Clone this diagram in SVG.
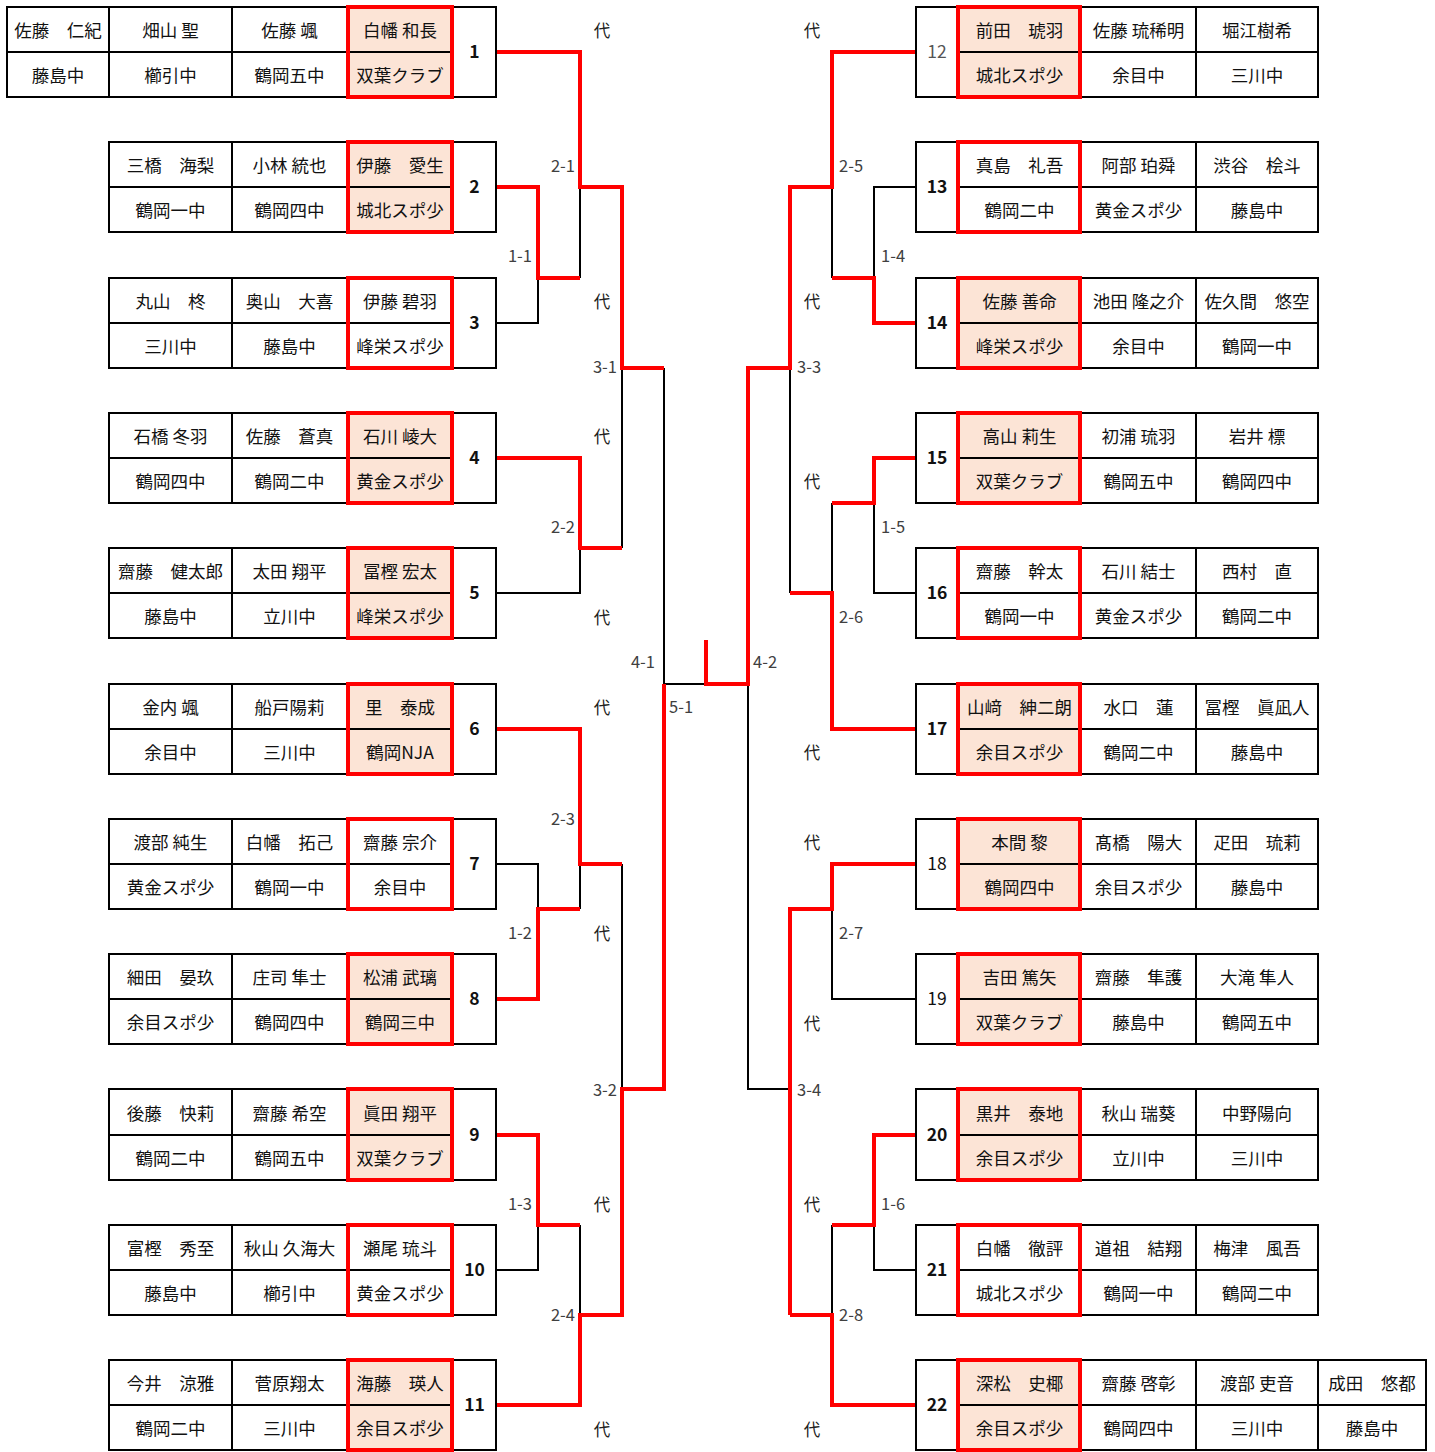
<svg xmlns="http://www.w3.org/2000/svg" width="1435" height="1452" viewBox="0 0 1435 1452">
<style>
.bg{fill:#fff}
.pk{fill:#fce4d6}
.tb{fill:none;stroke:#000;stroke-width:2}
.rb{fill:none;stroke:#f00;stroke-width:4}
.ln{fill:none;stroke:#000;stroke-width:2}
.rl{fill:none;stroke:#f00;stroke-width:4;stroke-linejoin:miter}
text{font-family:"Noto Sans CJK JP","Noto Sans",sans-serif;dominant-baseline:central}
.t{font-size:17.5px;text-anchor:middle;fill:#111}
.n{font-size:17.5px;text-anchor:middle;fill:#111;font-weight:bold}
.nl{font-size:17.5px;text-anchor:middle;fill:#111}
.ng{font-size:17.5px;text-anchor:middle;fill:#555}
.le{font-size:16.5px;text-anchor:end;fill:#404040}
.ls{font-size:16.5px;text-anchor:start;fill:#404040}
.d{font-size:16.5px;text-anchor:middle;fill:#222}
</style>
<rect class="bg" x="0" y="0" width="1435" height="1452"/>

<g id="connectors">
<path class="ln" d="M496 323H538V278M580 187V278M496 593H580V548M622 368V548M496 864H538V909M580 864V909M496 1270H538V1225M580 1225V1315M622 864V1089M664 368V684H706"/>
<path class="ln" d="M916 187H874V278M832 187V278M916 593H874V503M832 503V593M790 368V593M916 999H832V909M916 1270H874V1225M832 1225V1315M790 1089H748V684"/>
<path class="rl" d="M496 52H580V187H622V368H664"/>
<path class="rl" d="M496 187H538V278H580"/>
<path class="rl" d="M496 458H580V548H622"/>
<path class="rl" d="M496 729H580V864H622"/>
<path class="rl" d="M496 999H538V909H580"/>
<path class="rl" d="M496 1135H538V1225H580"/>
<path class="rl" d="M496 1405H580V1315H622V1089H664V684"/>
<path class="rl" d="M706 640V684H748V368H790V187H832V52H916"/>
<path class="rl" d="M916 323H874V278H832"/>
<path class="rl" d="M916 458H874V503H832"/>
<path class="rl" d="M916 729H832V593H790"/>
<path class="rl" d="M916 864H832V909H790V1315"/>
<path class="rl" d="M916 1135H874V1225H832"/>
<path class="rl" d="M916 1405H832V1315H790"/>
</g>

<g id="labels">
<text class="le" x="575" y="165">2-1</text>
<text class="le" x="532" y="255">1-1</text>
<text class="le" x="617" y="366">3-1</text>
<text class="le" x="575" y="526">2-2</text>
<text class="le" x="655" y="661">4-1</text>
<text class="ls" x="669" y="706">5-1</text>
<text class="le" x="575" y="818">2-3</text>
<text class="le" x="532" y="932">1-2</text>
<text class="le" x="617" y="1089">3-2</text>
<text class="le" x="532" y="1203">1-3</text>
<text class="le" x="575" y="1314">2-4</text>
<text class="ls" x="839" y="165">2-5</text>
<text class="ls" x="881" y="255">1-4</text>
<text class="ls" x="797" y="366">3-3</text>
<text class="ls" x="881" y="526">1-5</text>
<text class="ls" x="839" y="616">2-6</text>
<text class="ls" x="753" y="661">4-2</text>
<text class="ls" x="839" y="932">2-7</text>
<text class="ls" x="797" y="1089">3-4</text>
<text class="ls" x="881" y="1203">1-6</text>
<text class="ls" x="839" y="1314">2-8</text>
<text class="d" x="602" y="30">代</text>
<text class="d" x="602" y="301">代</text>
<text class="d" x="602" y="436">代</text>
<text class="d" x="602" y="617">代</text>
<text class="d" x="602" y="707">代</text>
<text class="d" x="602" y="933">代</text>
<text class="d" x="602" y="1204">代</text>
<text class="d" x="602" y="1429">代</text>
<text class="d" x="812" y="30">代</text>
<text class="d" x="812" y="301">代</text>
<text class="d" x="812" y="481">代</text>
<text class="d" x="812" y="752">代</text>
<text class="d" x="812" y="842">代</text>
<text class="d" x="812" y="1023">代</text>
<text class="d" x="812" y="1204">代</text>
<text class="d" x="812" y="1429">代</text>
</g>

<g id="m1">
<rect class="pk" x="348" y="7" width="104" height="90"/>
<rect class="tb" x="7" y="7" width="489" height="90"/>
<path class="ln" d="M109 7V97M232 7V97M347 7V97M453 7V97M7 52H453"/>
<rect class="rb" x="348" y="7" width="104" height="90"/>
<text class="t" x="58" y="29.5">佐藤　仁紀</text><text class="t" x="58" y="74.5">藤島中</text>
<text class="t" x="170.5" y="29.5">畑山 聖</text><text class="t" x="170.5" y="74.5">櫛引中</text>
<text class="t" x="289.5" y="29.5">佐藤 颯</text><text class="t" x="289.5" y="74.5">鶴岡五中</text>
<text class="t" x="400" y="29.5">白幡 和長</text><text class="t" x="400" y="74.5">双葉クラブ</text>
<text class="n" x="474.5" y="50">1</text>
</g>

<g id="m2">
<rect class="pk" x="348" y="142" width="104" height="90"/>
<rect class="tb" x="109" y="142" width="387" height="90"/>
<path class="ln" d="M232 142V232M347 142V232M453 142V232M109 187H453"/>
<rect class="rb" x="348" y="142" width="104" height="90"/>
<text class="t" x="170.5" y="164.5">三橋　海梨</text><text class="t" x="170.5" y="209.5">鶴岡一中</text>
<text class="t" x="289.5" y="164.5">小林 統也</text><text class="t" x="289.5" y="209.5">鶴岡四中</text>
<text class="t" x="400" y="164.5">伊藤　愛生</text><text class="t" x="400" y="209.5">城北スポ少</text>
<text class="n" x="474.5" y="185">2</text>
</g>

<g id="m3">
<rect class="tb" x="109" y="278" width="387" height="90"/>
<path class="ln" d="M232 278V368M347 278V368M453 278V368M109 323H453"/>
<rect class="rb" x="348" y="278" width="104" height="90"/>
<text class="t" x="170.5" y="300.5">丸山　柊</text><text class="t" x="170.5" y="345.5">三川中</text>
<text class="t" x="289.5" y="300.5">奥山　大喜</text><text class="t" x="289.5" y="345.5">藤島中</text>
<text class="t" x="400" y="300.5">伊藤 碧羽</text><text class="t" x="400" y="345.5">峰栄スポ少</text>
<text class="n" x="474.5" y="321">3</text>
</g>

<g id="m4">
<rect class="pk" x="348" y="413" width="104" height="90"/>
<rect class="tb" x="109" y="413" width="387" height="90"/>
<path class="ln" d="M232 413V503M347 413V503M453 413V503M109 458H453"/>
<rect class="rb" x="348" y="413" width="104" height="90"/>
<text class="t" x="170.5" y="435.5">石橋 冬羽</text><text class="t" x="170.5" y="480.5">鶴岡四中</text>
<text class="t" x="289.5" y="435.5">佐藤　蒼真</text><text class="t" x="289.5" y="480.5">鶴岡二中</text>
<text class="t" x="400" y="435.5">石川 崚大</text><text class="t" x="400" y="480.5">黄金スポ少</text>
<text class="n" x="474.5" y="456">4</text>
</g>

<g id="m5">
<rect class="pk" x="348" y="548" width="104" height="90"/>
<rect class="tb" x="109" y="548" width="387" height="90"/>
<path class="ln" d="M232 548V638M347 548V638M453 548V638M109 593H453"/>
<rect class="rb" x="348" y="548" width="104" height="90"/>
<text class="t" x="170.5" y="570.5">齋藤　健太郎</text><text class="t" x="170.5" y="615.5">藤島中</text>
<text class="t" x="289.5" y="570.5">太田 翔平</text><text class="t" x="289.5" y="615.5">立川中</text>
<text class="t" x="400" y="570.5">冨樫 宏太</text><text class="t" x="400" y="615.5">峰栄スポ少</text>
<text class="n" x="474.5" y="591">5</text>
</g>

<g id="m6">
<rect class="pk" x="348" y="684" width="104" height="90"/>
<rect class="tb" x="109" y="684" width="387" height="90"/>
<path class="ln" d="M232 684V774M347 684V774M453 684V774M109 729H453"/>
<rect class="rb" x="348" y="684" width="104" height="90"/>
<text class="t" x="170.5" y="706.5">金内 颯</text><text class="t" x="170.5" y="751.5">余目中</text>
<text class="t" x="289.5" y="706.5">船戸陽莉</text><text class="t" x="289.5" y="751.5">三川中</text>
<text class="t" x="400" y="706.5">里　泰成</text><text class="t" x="400" y="751.5">鶴岡NJA</text>
<text class="n" x="474.5" y="727">6</text>
</g>

<g id="m7">
<rect class="tb" x="109" y="819" width="387" height="90"/>
<path class="ln" d="M232 819V909M347 819V909M453 819V909M109 864H453"/>
<rect class="rb" x="348" y="819" width="104" height="90"/>
<text class="t" x="170.5" y="841.5">渡部 純生</text><text class="t" x="170.5" y="886.5">黄金スポ少</text>
<text class="t" x="289.5" y="841.5">白幡　拓己</text><text class="t" x="289.5" y="886.5">鶴岡一中</text>
<text class="t" x="400" y="841.5">齋藤 宗介</text><text class="t" x="400" y="886.5">余目中</text>
<text class="n" x="474.5" y="862">7</text>
</g>

<g id="m8">
<rect class="pk" x="348" y="954" width="104" height="90"/>
<rect class="tb" x="109" y="954" width="387" height="90"/>
<path class="ln" d="M232 954V1044M347 954V1044M453 954V1044M109 999H453"/>
<rect class="rb" x="348" y="954" width="104" height="90"/>
<text class="t" x="170.5" y="976.5">細田　晏玖</text><text class="t" x="170.5" y="1021.5">余目スポ少</text>
<text class="t" x="289.5" y="976.5">庄司 隼士</text><text class="t" x="289.5" y="1021.5">鶴岡四中</text>
<text class="t" x="400" y="976.5">松浦 武璃</text><text class="t" x="400" y="1021.5">鶴岡三中</text>
<text class="n" x="474.5" y="997">8</text>
</g>

<g id="m9">
<rect class="pk" x="348" y="1089" width="104" height="91"/>
<rect class="tb" x="109" y="1089" width="387" height="91"/>
<path class="ln" d="M232 1089V1180M347 1089V1180M453 1089V1180M109 1135H453"/>
<rect class="rb" x="348" y="1089" width="104" height="91"/>
<text class="t" x="170.5" y="1112">後藤　快莉</text><text class="t" x="170.5" y="1157">鶴岡二中</text>
<text class="t" x="289.5" y="1112">齋藤 希空</text><text class="t" x="289.5" y="1157">鶴岡五中</text>
<text class="t" x="400" y="1112">眞田 翔平</text><text class="t" x="400" y="1157">双葉クラブ</text>
<text class="n" x="474.5" y="1133">9</text>
</g>

<g id="m10">
<rect class="tb" x="109" y="1225" width="387" height="90"/>
<path class="ln" d="M232 1225V1315M347 1225V1315M453 1225V1315M109 1270H453"/>
<rect class="rb" x="348" y="1225" width="104" height="90"/>
<text class="t" x="170.5" y="1247.5">富樫　秀至</text><text class="t" x="170.5" y="1292.5">藤島中</text>
<text class="t" x="289.5" y="1247.5">秋山 久海大</text><text class="t" x="289.5" y="1292.5">櫛引中</text>
<text class="t" x="400" y="1247.5">瀬尾 琉斗</text><text class="t" x="400" y="1292.5">黄金スポ少</text>
<text class="n" x="474.5" y="1268">10</text>
</g>

<g id="m11">
<rect class="pk" x="348" y="1360" width="104" height="90"/>
<rect class="tb" x="109" y="1360" width="387" height="90"/>
<path class="ln" d="M232 1360V1450M347 1360V1450M453 1360V1450M109 1405H453"/>
<rect class="rb" x="348" y="1360" width="104" height="90"/>
<text class="t" x="170.5" y="1382.5">今井　涼雅</text><text class="t" x="170.5" y="1427.5">鶴岡二中</text>
<text class="t" x="289.5" y="1382.5">菅原翔太</text><text class="t" x="289.5" y="1427.5">三川中</text>
<text class="t" x="400" y="1382.5">海藤　瑛人</text><text class="t" x="400" y="1427.5">余目スポ少</text>
<text class="n" x="474.5" y="1403">11</text>
</g>

<g id="m12">
<rect class="pk" x="958" y="7" width="122" height="90"/>
<rect class="tb" x="916" y="7" width="402" height="90"/>
<path class="ln" d="M958 7V97M1081 7V97M1196 7V97M958 52H1318"/>
<rect class="rb" x="958" y="7" width="122" height="90"/>
<text class="ng" x="937" y="50">12</text>
<text class="t" x="1019.5" y="29.5">前田　琥羽</text><text class="t" x="1019.5" y="74.5">城北スポ少</text>
<text class="t" x="1138.5" y="29.5">佐藤 琉稀明</text><text class="t" x="1138.5" y="74.5">余目中</text>
<text class="t" x="1257" y="29.5">堀江樹希</text><text class="t" x="1257" y="74.5">三川中</text>
</g>

<g id="m13">
<rect class="tb" x="916" y="142" width="402" height="90"/>
<path class="ln" d="M958 142V232M1081 142V232M1196 142V232M958 187H1318"/>
<rect class="rb" x="958" y="142" width="122" height="90"/>
<text class="n" x="937" y="185">13</text>
<text class="t" x="1019.5" y="164.5">真島　礼吾</text><text class="t" x="1019.5" y="209.5">鶴岡二中</text>
<text class="t" x="1138.5" y="164.5">阿部 珀舜</text><text class="t" x="1138.5" y="209.5">黄金スポ少</text>
<text class="t" x="1257" y="164.5">渋谷　桧斗</text><text class="t" x="1257" y="209.5">藤島中</text>
</g>

<g id="m14">
<rect class="pk" x="958" y="278" width="122" height="90"/>
<rect class="tb" x="916" y="278" width="402" height="90"/>
<path class="ln" d="M958 278V368M1081 278V368M1196 278V368M958 323H1318"/>
<rect class="rb" x="958" y="278" width="122" height="90"/>
<text class="n" x="937" y="321">14</text>
<text class="t" x="1019.5" y="300.5">佐藤 善命</text><text class="t" x="1019.5" y="345.5">峰栄スポ少</text>
<text class="t" x="1138.5" y="300.5">池田 隆之介</text><text class="t" x="1138.5" y="345.5">余目中</text>
<text class="t" x="1257" y="300.5">佐久間　悠空</text><text class="t" x="1257" y="345.5">鶴岡一中</text>
</g>

<g id="m15">
<rect class="pk" x="958" y="413" width="122" height="90"/>
<rect class="tb" x="916" y="413" width="402" height="90"/>
<path class="ln" d="M958 413V503M1081 413V503M1196 413V503M958 458H1318"/>
<rect class="rb" x="958" y="413" width="122" height="90"/>
<text class="n" x="937" y="456">15</text>
<text class="t" x="1019.5" y="435.5">高山 莉生</text><text class="t" x="1019.5" y="480.5">双葉クラブ</text>
<text class="t" x="1138.5" y="435.5">初浦 琉羽</text><text class="t" x="1138.5" y="480.5">鶴岡五中</text>
<text class="t" x="1257" y="435.5">岩井 標</text><text class="t" x="1257" y="480.5">鶴岡四中</text>
</g>

<g id="m16">
<rect class="tb" x="916" y="548" width="402" height="90"/>
<path class="ln" d="M958 548V638M1081 548V638M1196 548V638M958 593H1318"/>
<rect class="rb" x="958" y="548" width="122" height="90"/>
<text class="n" x="937" y="591">16</text>
<text class="t" x="1019.5" y="570.5">齋藤　幹太</text><text class="t" x="1019.5" y="615.5">鶴岡一中</text>
<text class="t" x="1138.5" y="570.5">石川 結士</text><text class="t" x="1138.5" y="615.5">黄金スポ少</text>
<text class="t" x="1257" y="570.5">西村　直</text><text class="t" x="1257" y="615.5">鶴岡二中</text>
</g>

<g id="m17">
<rect class="pk" x="958" y="684" width="122" height="90"/>
<rect class="tb" x="916" y="684" width="402" height="90"/>
<path class="ln" d="M958 684V774M1081 684V774M1196 684V774M958 729H1318"/>
<rect class="rb" x="958" y="684" width="122" height="90"/>
<text class="n" x="937" y="727">17</text>
<text class="t" x="1019.5" y="706.5">山﨑　紳二朗</text><text class="t" x="1019.5" y="751.5">余目スポ少</text>
<text class="t" x="1138.5" y="706.5">水口　蓮</text><text class="t" x="1138.5" y="751.5">鶴岡二中</text>
<text class="t" x="1257" y="706.5">冨樫　眞凪人</text><text class="t" x="1257" y="751.5">藤島中</text>
</g>

<g id="m18">
<rect class="pk" x="958" y="819" width="122" height="90"/>
<rect class="tb" x="916" y="819" width="402" height="90"/>
<path class="ln" d="M958 819V909M1081 819V909M1196 819V909M958 864H1318"/>
<rect class="rb" x="958" y="819" width="122" height="90"/>
<text class="nl" x="937" y="862">18</text>
<text class="t" x="1019.5" y="841.5">本間 黎</text><text class="t" x="1019.5" y="886.5">鶴岡四中</text>
<text class="t" x="1138.5" y="841.5">髙橋　陽大</text><text class="t" x="1138.5" y="886.5">余目スポ少</text>
<text class="t" x="1257" y="841.5">疋田　琉莉</text><text class="t" x="1257" y="886.5">藤島中</text>
</g>

<g id="m19">
<rect class="pk" x="958" y="954" width="122" height="90"/>
<rect class="tb" x="916" y="954" width="402" height="90"/>
<path class="ln" d="M958 954V1044M1081 954V1044M1196 954V1044M958 999H1318"/>
<rect class="rb" x="958" y="954" width="122" height="90"/>
<text class="nl" x="937" y="997">19</text>
<text class="t" x="1019.5" y="976.5">吉田 篤矢</text><text class="t" x="1019.5" y="1021.5">双葉クラブ</text>
<text class="t" x="1138.5" y="976.5">齋藤　隼護</text><text class="t" x="1138.5" y="1021.5">藤島中</text>
<text class="t" x="1257" y="976.5">大滝 隼人</text><text class="t" x="1257" y="1021.5">鶴岡五中</text>
</g>

<g id="m20">
<rect class="pk" x="958" y="1089" width="122" height="91"/>
<rect class="tb" x="916" y="1089" width="402" height="91"/>
<path class="ln" d="M958 1089V1180M1081 1089V1180M1196 1089V1180M958 1135H1318"/>
<rect class="rb" x="958" y="1089" width="122" height="91"/>
<text class="n" x="937" y="1133">20</text>
<text class="t" x="1019.5" y="1112">黒井　泰地</text><text class="t" x="1019.5" y="1157">余目スポ少</text>
<text class="t" x="1138.5" y="1112">秋山 瑞葵</text><text class="t" x="1138.5" y="1157">立川中</text>
<text class="t" x="1257" y="1112">中野陽向</text><text class="t" x="1257" y="1157">三川中</text>
</g>

<g id="m21">
<rect class="tb" x="916" y="1225" width="402" height="90"/>
<path class="ln" d="M958 1225V1315M1081 1225V1315M1196 1225V1315M958 1270H1318"/>
<rect class="rb" x="958" y="1225" width="122" height="90"/>
<text class="n" x="937" y="1268">21</text>
<text class="t" x="1019.5" y="1247.5">白幡　徹評</text><text class="t" x="1019.5" y="1292.5">城北スポ少</text>
<text class="t" x="1138.5" y="1247.5">道祖　結翔</text><text class="t" x="1138.5" y="1292.5">鶴岡一中</text>
<text class="t" x="1257" y="1247.5">梅津　風吾</text><text class="t" x="1257" y="1292.5">鶴岡二中</text>
</g>

<g id="m22">
<rect class="pk" x="958" y="1360" width="122" height="90"/>
<rect class="tb" x="916" y="1360" width="510" height="90"/>
<path class="ln" d="M958 1360V1450M1081 1360V1450M1196 1360V1450M1318 1360V1450M958 1405H1426"/>
<rect class="rb" x="958" y="1360" width="122" height="90"/>
<text class="n" x="937" y="1403">22</text>
<text class="t" x="1019.5" y="1382.5">深松　史椰</text><text class="t" x="1019.5" y="1427.5">余目スポ少</text>
<text class="t" x="1138.5" y="1382.5">齋藤 啓彰</text><text class="t" x="1138.5" y="1427.5">鶴岡四中</text>
<text class="t" x="1257" y="1382.5">渡部 吏音</text><text class="t" x="1257" y="1427.5">三川中</text>
<text class="t" x="1372" y="1382.5">成田　悠都</text><text class="t" x="1372" y="1427.5">藤島中</text>
</g>
</svg>
